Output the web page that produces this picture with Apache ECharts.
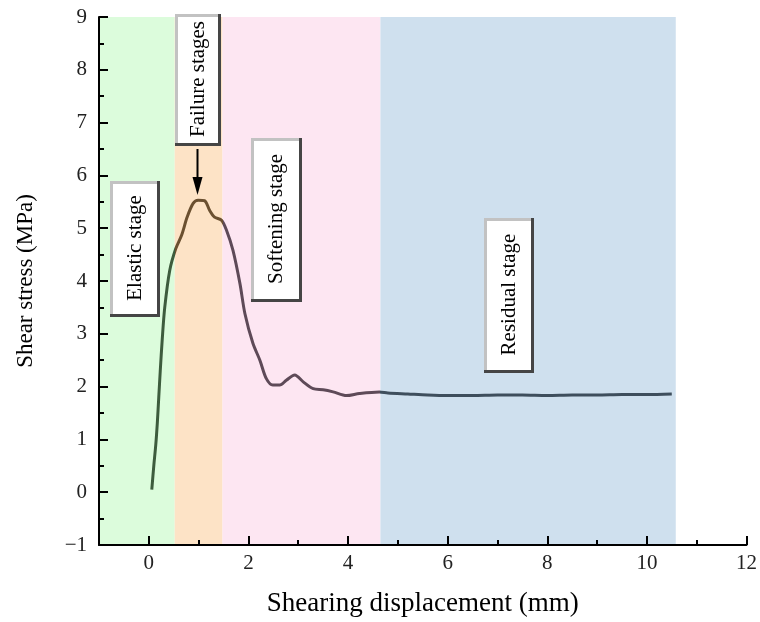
<html>
<head>
    <meta charset="UTF-8">
    <title>Shear stress curve</title>
    <script src="https://cdn.jsdelivr.net/npm/echarts@6/dist/echarts.min.js"></script>
</head>
<body style="margin:0">
    <div id="container" style="width: 760px;height:622px;"></div>
</body>
<script>
    // displacement (mm) and stress (MPa)
    var disp = [0.06, 0.10, 0.14, 0.17, 0.20, 0.23, 0.27, 0.32, 0.42, 0.54, 0.66, 0.77, 0.89, 0.99, 1.12, 1.22, 1.32, 1.46,
        1.56, 1.69, 1.83, 1.93, 2.09, 2.23, 2.36, 2.49, 2.63, 2.76, 2.93, 3.10, 3.30, 3.50, 3.70, 3.97, 4.23, 4.63,
        4.80, 5.20, 5.60, 6.00, 6.50, 7.00, 7.50, 8.00, 8.50, 9.00, 9.50, 10.00, 10.50];
    var stress = [0.05, 0.50, 0.90, 1.30, 1.80, 2.30, 2.90, 3.50, 4.20, 4.61, 4.87, 5.21, 5.47, 5.53, 5.52, 5.34, 5.21, 5.15,
        4.96, 4.58, 3.95, 3.38, 2.82, 2.50, 2.15, 2.03, 2.03, 2.12, 2.22, 2.09, 1.96, 1.94, 1.90, 1.83, 1.87, 1.90,
        1.88, 1.86, 1.84, 1.83, 1.83, 1.84, 1.84, 1.83, 1.84, 1.84, 1.85, 1.85, 1.86];

    // stage bands [start, end]
    var stageNames = ['Elastic stage', 'Failure stages', 'Softening stage', 'Residual stage'];
    var stageStart = [-1, 0.52, 1.48, 4.65];
    var stageEnd = [0.52, 1.48, 4.65, 10.58];
    var bandColors = ['#dcfcdc', '#fde3c6', '#fde6f2', '#cfe0ee'];
    var lineColors = ['#3d5c3d', '#6b5030', '#5e4a58', '#3e4e5c'];

    // tick positions
    var xMajor = [0, 2, 4, 6, 8, 10, 12];
    var xMinor = [-1, 1, 3, 5, 7, 9, 11];

    var points = [];
    for (var i = 0; i < disp.length; i++) {
        points.push([disp[i], stress[i]]);
    }

    var areas = [];
    var pieces = [];
    for (var k = 0; k < stageNames.length; k++) {
        areas.push([{ xAxis: stageStart[k], itemStyle: { color: bandColors[k] } }, { xAxis: stageEnd[k] }]);
        pieces.push({ gte: stageStart[k], lt: stageEnd[k], color: lineColors[k] });
    }

    var serif = '"Liberation Serif", "Times New Roman", serif';

    // label box with a bevel border
    function box(x, y, w, h, label) {
        return {
            type: 'group',
            z: 100,
            children: [
                { type: 'rect', z: 100, shape: { x: x, y: y, width: w, height: h }, style: { fill: '#454545' } },
                { type: 'rect', z: 101, shape: { x: x, y: y, width: w - 3, height: h - 3 }, style: { fill: '#c2c2c2' } },
                { type: 'rect', z: 102, shape: { x: x + 3, y: y + 3, width: w - 6, height: h - 6 }, style: { fill: '#fff' } },
                {
                    type: 'text', z: 103, x: x + w / 2, y: y + h / 2 - 1, rotation: Math.PI / 2,
                    style: { text: label, font: '21px ' + serif, fill: '#000', align: 'center', verticalAlign: 'middle' }
                }
            ]
        };
    }

    var tickStyle = { color: '#000', width: 2 };

    var mycharts = echarts.init(document.getElementById('container'));
    var option = {
        animation: false,
        grid: { left: 99, right: 13, top: 17, bottom: 77 },
        xAxis: [{
            type: 'value', min: -1, max: 12, interval: 1, z: 10,
            name: 'Shearing displacement (mm)', nameLocation: 'middle', nameGap: 45,
            nameTextStyle: { fontFamily: serif, fontSize: 27, color: '#000' },
            axisLine: { onZero: false, lineStyle: { color: '#000', width: 2 } },
            axisTick: { inside: true, length: 9, customValues: xMajor, lineStyle: tickStyle },
            splitLine: { show: false },
            axisLabel: { fontFamily: serif, fontSize: 21, color: '#222', margin: 8, customValues: xMajor }
        }, {
            type: 'value', min: -1, max: 12, interval: 1, z: 10, position: 'bottom',
            axisLine: { show: false, onZero: false }, axisLabel: { show: false }, splitLine: { show: false },
            axisTick: { inside: true, length: 5, customValues: xMinor, lineStyle: tickStyle }
        }],
        yAxis: {
            type: 'value', min: -1, max: 9, interval: 1, z: 10,
            name: 'Shear stress (MPa)', nameLocation: 'middle', nameGap: 62,
            nameTextStyle: { fontFamily: serif, fontSize: 23, color: '#000' },
            axisLine: { onZero: false, lineStyle: { color: '#000', width: 2 } },
            axisTick: { inside: true, length: 9, lineStyle: tickStyle },
            minorTick: { show: true, splitNumber: 2, length: 5, lineStyle: tickStyle },
            splitLine: { show: false },
            axisLabel: {
                fontFamily: serif, fontSize: 21, color: '#222', margin: 12,
                formatter: function (v) { return String(v).replace('-', '\u2212'); }
            }
        },
        visualMap: {
            show: false, type: 'piecewise', dimension: 0, seriesIndex: 0,
            pieces: pieces
        },
        series: [{
            type: 'line',
            data: points,
            smooth: 0.3,
            showSymbol: false,
            lineStyle: { width: 3 },
            markArea: { silent: true, data: areas },
            z: 3
        }],
        graphic: [
            box(110, 181, 50, 136, stageNames[0]),
            box(175, 14, 46, 132, stageNames[1]),
            box(251, 138, 51, 164, stageNames[2]),
            box(484, 218, 50, 155, stageNames[3]),
            { type: 'line', z: 100, shape: { x1: 197.5, y1: 149, x2: 197.5, y2: 180 }, style: { stroke: '#000', lineWidth: 2 } },
            { type: 'polygon', z: 100, shape: { points: [[192.5, 177], [202.5, 177], [197.5, 195]] }, style: { fill: '#000' } }
        ]
    };
    mycharts.setOption(option);
</script>
</html>
